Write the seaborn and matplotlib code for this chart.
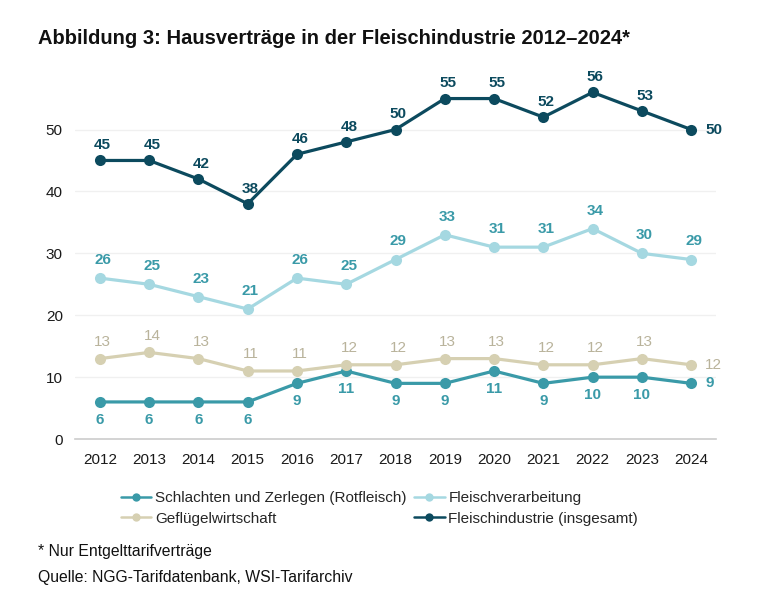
import pandas as pd
import matplotlib.pyplot as plt
import seaborn as sns

# Data
years = list(range(2012, 2025))
schlachten = [6, 6, 6, 6, 9, 11, 9, 9, 11, 9, 10, 10, 9]
verarbeitung = [26, 25, 23, 21, 26, 25, 29, 33, 31, 31, 34, 30, 29]
gefluegel = [13, 14, 13, 11, 11, 12, 12, 13, 13, 12, 12, 13, 12]
insgesamt = [45, 45, 42, 38, 46, 48, 50, 55, 55, 52, 56, 53, 50]

series_names = ["Schlachten und Zerlegen (Rotfleisch)", "Geflügelwirtschaft",
                "Fleischverarbeitung", "Fleischindustrie (insgesamt)"]
series_values = [schlachten, gefluegel, verarbeitung, insgesamt]
line_colors = ["#3a9aa8", "#d6d0b2", "#a5d8e1", "#0c4a5e"]
label_colors = ["#3a9aa8", "#b9b39b", "#3a9aa8", "#0c4a5e"]
label_weights = ["bold", "normal", "bold", "bold"]
label_dy = [-13, 12, 13, 11]   # points, negative = below

rows = []
for name, vals in zip(series_names, series_values):
    for y, v in zip(years, vals):
        rows.append({"Jahr": y, "Wert": v, "Reihe": name})
df = pd.DataFrame(rows)

sns.set_style("white")
plt.rcParams["font.family"] = ["Liberation Sans", "DejaVu Sans"]
narrow = ["Liberation Sans Narrow", "Liberation Sans", "DejaVu Sans"]

fig = plt.figure(figsize=(7.68, 6.09), dpi=100)
ax = fig.add_axes([0.098, 0.279, 0.834, 0.61])

sns.lineplot(data=df, x="Jahr", y="Wert", hue="Reihe", hue_order=series_names,
             palette=dict(zip(series_names, line_colors)), marker="o",
             markersize=8, markeredgewidth=0, linewidth=2.3, ax=ax, legend=False)

# data labels
for name, vals, lc, lw, dy in zip(series_names, series_values, label_colors, label_weights, label_dy):
    for y, v in zip(years, vals):
        if y == years[-1] and name != "Fleischverarbeitung":
            ax.annotate(str(v), (y, v), xytext=(10, 0), textcoords="offset points",
                        ha="left", va="center", color=lc, fontweight=lw,
                        fontsize=11, family=narrow)
        else:
            ax.annotate(str(v), (y, v), xytext=(2 if dy > 0 else 0, dy), textcoords="offset points",
                        ha="center", va="center", color=lc, fontweight=lw,
                        fontsize=11, family=narrow)

ax.set_xlim(2011.5, 2024.5)
ax.set_ylim(0, 60)
ax.set_xticks(years)
ax.set_xticklabels([str(y) for y in years], family=narrow, fontsize=11)
ax.set_yticks([0, 10, 20, 30, 40, 50])
ax.set_yticklabels(["0", "10", "20", "30", "40", "50"], family=narrow, fontsize=11)
ax.tick_params(axis="both", length=0, colors="#1a1a1a")
ax.tick_params(axis="x", pad=10)
ax.tick_params(axis="y", pad=9)
ax.grid(axis="y", color="#f0f0f0", linewidth=1)
ax.set_axisbelow(True)
for s in ["top", "right", "left"]:
    ax.spines[s].set_visible(False)
ax.spines["bottom"].set_color("#cccccc")
ax.spines["bottom"].set_linewidth(1.2)
ax.set_xlabel("")
ax.set_ylabel("")

handles = [plt.Line2D([], [], color=c, marker="o", markersize=6, markeredgewidth=0, linewidth=1.8)
           for c in line_colors]
fig.legend(handles, series_names, ncol=2, loc="upper left", bbox_to_anchor=(0.149, 0.203),
           frameon=False, fontsize=11, handlelength=2.0, handletextpad=0.25,
           columnspacing=0.5, labelspacing=0.4, borderaxespad=0)

fig.text(0.049, 0.937, "Abbildung 3: Hausverträge in der Fleischindustrie 2012–2024*",
         fontsize=14.5, fontweight="bold", color="#111111", va="center")
fig.text(0.049, 0.094, "* Nur Entgelttarifverträge", fontsize=11.3, color="#111111", va="center")
fig.text(0.049, 0.052, "Quelle: NGG-Tarifdatenbank, WSI-Tarifarchiv", fontsize=11.3,
         color="#111111", va="center")

fig.savefig("out.png", dpi=100)
